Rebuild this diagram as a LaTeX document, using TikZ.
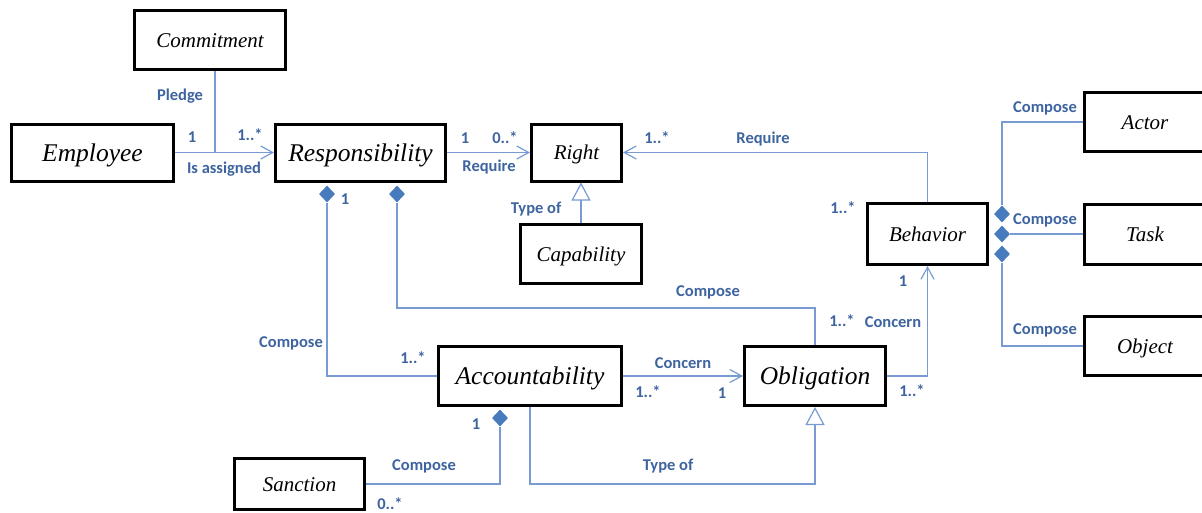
\documentclass[tikz,border=0pt]{standalone}
\usepackage{fontspec}
\setmainfont{Liberation Serif}
\newfontfamily\lblfamily{Carlito}
\usetikzlibrary{positioning,shapes.geometric,arrows.meta,calc}
\usepackage{xcolor}
\definecolor{linkblue}{RGB}{120,155,210}
\definecolor{lblblue}{RGB}{62,100,160}
\definecolor{diafill}{RGB}{72,122,190}

\tikzset{
  classbox/.style={draw, line width=3pt, rectangle, inner sep=0pt, minimum height=59pt,
    text height=14pt, text depth=0pt, font=\fontsize{21}{25}\selectfont\itshape},
  bigbox/.style={classbox, text height=17pt, font=\fontsize{25.5}{30}\selectfont\itshape},
  link/.style={draw=linkblue, line width=1.2pt},
  assoc/.style={link, -{Straight Barb[length=12pt,width=13pt]}},
  typeof/.style={link, -{Triangle[open,length=18pt,width=19pt,fill=white]}},
  compdia/.style={diamond, fill=diafill, inner sep=0pt, minimum width=16pt, minimum height=17pt},
  lbl/.style={font=\lblfamily\bfseries\fontsize{16.5}{19}\selectfont, text=lblblue, inner sep=0pt},
}

\begin{document}
\begin{tikzpicture}[x=1pt, y=-1pt]
    \useasboundingbox (0,0) rectangle (1202,512);

    % classes
    \node (commitment) [classbox, minimum width=151pt] at (210,40) {Commitment};
    \node (employee) [bigbox, minimum width=162pt, minimum height=57pt] at (92.5,152.5) {Employee};
    \node (resp) [bigbox, minimum width=170pt, minimum height=57pt] at (360.5,152.5) {Responsibility};
    \node (right) [classbox, minimum width=90pt, minimum height=57pt] at (576.5,152.5) {Right};
    \node (capability) [classbox, minimum width=121pt] at (581,254) {Capability};
    \node (behavior) [classbox, minimum width=120pt, minimum height=61pt] at (927.5,234) {Behavior};
    \node (actor) [classbox, minimum width=122pt] at (1145,122) {Actor};
    \node (task) [classbox, minimum width=122pt, minimum height=60pt] at (1145,234) {Task};
    \node (object) [classbox, minimum width=122pt] at (1145,346) {Object};
    \node (acc) [bigbox, minimum width=183pt] at (530,376) {Accountability};
    \node (obl) [bigbox, minimum width=141pt] at (815,376) {Obligation};
    \node (sanction) [classbox, minimum width=130pt, minimum height=51pt] at (299.5,484) {Sanction};

    % composition diamonds
    \node (diaresacc) [compdia] at (327,194) {};
    \node (diaresobl) [compdia] at (397,194) {};
    \node (diaactor) [compdia] at (1002,214) {};
    \node (diatask) [compdia] at (1002,234) {};
    \node (diaobject) [compdia] at (1002,254) {};
    \node (diasanction) [compdia] at (500,418) {};

    \coordinate (pledgefoot) at (215,152.5);
    \coordinate (composebend) at (815,308);

    % associations
    \draw[assoc] (employee.east) -- (resp.west)
        node[lbl] at (192,137) {1}
        node[lbl] at (250,135) {1..*}
        node[lbl] at (224,169) {Is assigned};
    \draw[link] (commitment.south -| pledgefoot) -- (pledgefoot)
        node[lbl] at (180,96) {Pledge};
    \draw[assoc] (resp.east) -- (right.west)
        node[lbl] at (465,138) {1}
        node[lbl] at (505,138) {0..*}
        node[lbl] at (489,167) {Require};
    \draw[typeof] (capability.north) -- (capability.north |- right.south)
        node[lbl] at (536,209) {Type of};
    \draw[assoc] (behavior.north) |- (right.east)
        node[lbl] at (657,138) {1..*}
        node[lbl] at (763,139) {Require}
        node[lbl] at (843,208) {1..*};
    \draw[link] (diaactor.north) |- (actor.west)
        node[lbl] at (1045,108) {Compose};
    \draw[link] (diatask.east) -- (task.west)
        node[lbl] at (1045,220) {Compose};
    \draw[link] (diaobject.south) |- (object.west)
        node[lbl] at (1045,330) {Compose};
    \draw[link] (diaresacc.south) |- (acc.west)
        node[lbl] at (345,199) {1}
        node[lbl] at (291,343) {Compose}
        node[lbl] at (413,358) {1..*};
    \draw[link] (diaresobl.south) |- (composebend) -- (obl.north)
        node[lbl] at (708,292) {Compose}
        node[lbl] at (842,321) {1..*};
    \draw[assoc] (acc.east) -- (obl.west)
        node[lbl] at (683,363) {Concern}
        node[lbl] at (648,392) {1..*}
        node[lbl] at (722,393) {1};
    \draw[assoc] (obl.east) -| (behavior.south)
        node[lbl] at (912,391) {1..*}
        node[lbl] at (893,322) {Concern}
        node[lbl] at (903,281) {1};
    \draw[typeof] (acc.south) -- ++(0,77) -| (obl.south)
        node[lbl] at (668,466) {Type of};
    \draw[link] (diasanction.south) |- (sanction.east)
        node[lbl] at (476,424) {1}
        node[lbl] at (424,466) {Compose}
        node[lbl] at (390,504) {0..*};
\end{tikzpicture}
\end{document}
